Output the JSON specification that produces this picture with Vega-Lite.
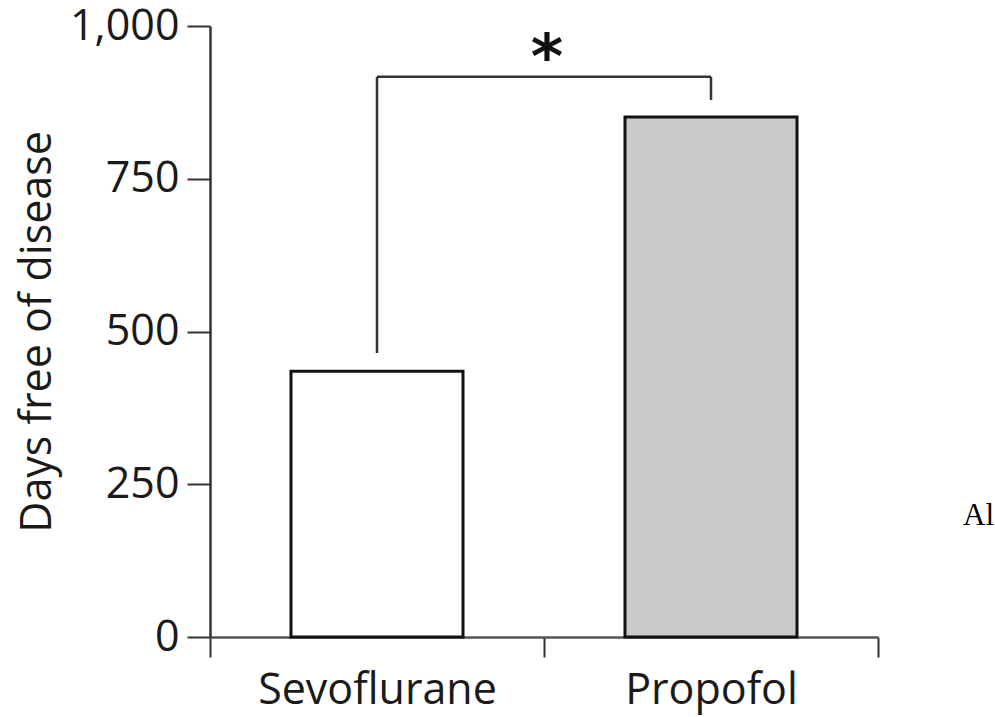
{
  "$schema": "https://vega.github.io/schema/vega-lite/v6.json",
  "autosize": {"type": "none"},
  "padding": {"left": 210, "top": 26, "right": 117, "bottom": 80},
  "width": 668,
  "height": 611,
  "background": "white",
  "config": {"view": {"stroke": null}, "font": "Open Sans"},
  "title": {
    "text": "Al",
    "orient": "right",
    "angle": 0,
    "anchor": "middle",
    "align": "left",
    "baseline": "alphabetic",
    "font": "Liberation Serif",
    "fontSize": 31,
    "fontWeight": "normal",
    "color": "#000000",
    "offset": 53,
    "dy": 193
  },
  "datasets": {
    "bars": [
      {"drug": "Sevoflurane", "days": 435},
      {"drug": "Propofol", "days": 851}
    ],
    "legs": [
      {"drug": "Sevoflurane", "from": 465, "to": 917},
      {"drug": "Propofol", "from": 879, "to": 917}
    ],
    "span": [
      {"left": "Sevoflurane", "right": "Propofol", "level": 917}
    ],
    "star": [
      {"drug": "Propofol", "level": 969, "label": "*"}
    ]
  },
  "layer": [
    {
      "data": {"name": "bars"},
      "mark": {"type": "bar", "width": {"band": 0.515}, "stroke": "#111111", "strokeWidth": 3},
      "encoding": {
        "x": {
          "field": "drug",
          "type": "nominal",
          "scale": {"domain": ["Sevoflurane", "Propofol"], "paddingInner": 0, "paddingOuter": 0},
          "axis": {
            "title": null,
            "labelAngle": 0,
            "labelLimit": 0,
            "tickBand": "extent",
            "tickSize": 20,
            "tickWidth": 2,
            "tickColor": "#333333",
            "domainColor": "#555555",
            "domainWidth": 2.5,
            "labelFont": "Open Sans",
            "labelFontSize": 43,
            "labelColor": "#1a1a1a",
            "labelPadding": 12
          }
        },
        "y": {
          "field": "days",
          "type": "quantitative",
          "scale": {"domain": [0, 1000], "nice": false},
          "axis": {
            "title": "Days free of disease",
            "values": [0, 250, 500, 750, 1000],
            "format": ",.0f",
            "grid": false,
            "labelLimit": 0,
            "tickSize": 23,
            "tickWidth": 2,
            "tickColor": "#333333",
            "domainColor": "#333333",
            "domainWidth": 2.5,
            "labelFont": "Open Sans",
            "labelFontSize": 43,
            "labelColor": "#1a1a1a",
            "labelPadding": 8,
            "titleFont": "Open Sans",
            "titleFontSize": 43,
            "titleFontWeight": "normal",
            "titleColor": "#1a1a1a",
            "titlePadding": 10
          }
        },
        "fill": {
          "field": "drug",
          "type": "nominal",
          "scale": {"domain": ["Sevoflurane", "Propofol"], "range": ["#ffffff", "#c9c9c9"]},
          "legend": null
        }
      }
    },
    {
      "data": {"name": "legs"},
      "mark": {"type": "rule", "stroke": "#333333", "strokeWidth": 2.5},
      "encoding": {
        "x": {"field": "drug", "type": "nominal"},
        "y": {"field": "from", "type": "quantitative"},
        "y2": {"field": "to"}
      }
    },
    {
      "data": {"name": "span"},
      "mark": {"type": "rule", "stroke": "#333333", "strokeWidth": 2.5},
      "encoding": {
        "x": {"field": "left", "type": "nominal"},
        "x2": {"field": "right"},
        "y": {"field": "level", "type": "quantitative"}
      }
    },
    {
      "data": {"name": "star"},
      "mark": {"type": "text", "font": "DejaVu Sans", "fontSize": 62, "fontWeight": "bold", "baseline": "middle", "align": "center", "color": "#111111", "dx": 3, "dy": 14},
      "encoding": {
        "x": {"field": "drug", "type": "nominal", "bandPosition": 0},
        "y": {"field": "level", "type": "quantitative"},
        "text": {"field": "label"}
      }
    }
  ]
}
